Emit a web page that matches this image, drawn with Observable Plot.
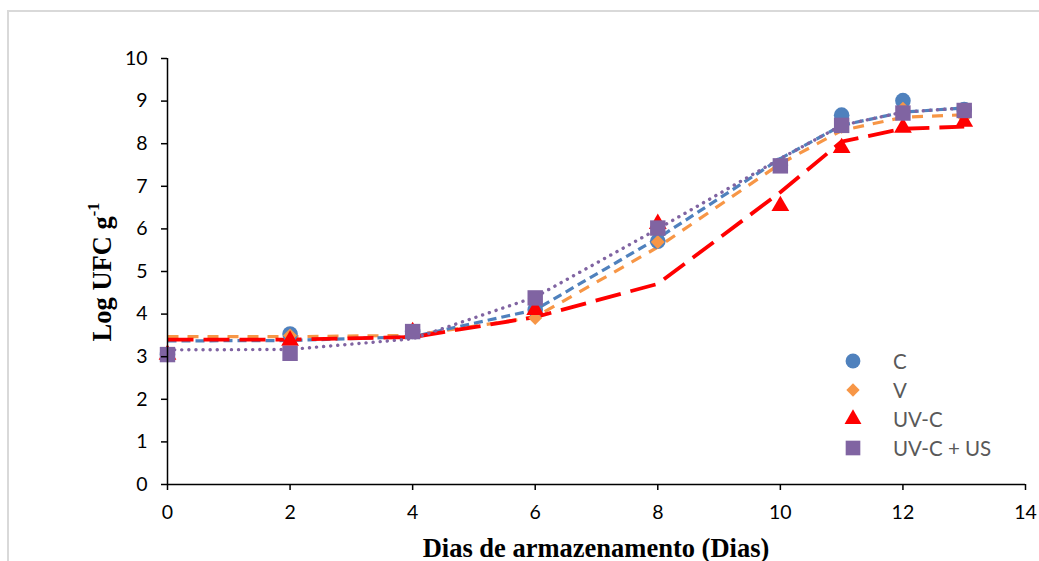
<!DOCTYPE html>
<html>
<head>
<meta charset="utf-8">
<script src="https://cdn.jsdelivr.net/npm/d3@7"></script>
<script src="https://cdn.jsdelivr.net/npm/@observablehq/plot@0.6"></script>
<style>
  html, body { margin: 0; padding: 0; background: #fff; overflow: hidden; }
  #wrap { position: relative; width: 1039px; height: 561px; overflow: hidden; }
  #frame { position: absolute; left: 7px; top: 10px; width: 1100px; height: 600px;
           border-left: 2px solid #d9d9d9; border-top: 2px solid #d9d9d9; }
  #chart { position: absolute; left: 0; top: 0; }
  .ytitle { position: absolute; left: 102px; top: 272px; transform: translate(-50%, -50%) rotate(-90deg);
            font-family: "Liberation Serif", "Times New Roman", serif; font-weight: bold; font-size: 26.5px;
            white-space: nowrap; color: #000; }
  .xtitle { position: absolute; left: 596px; top: 548px; transform: translate(-50%, -50%);
            font-family: "Liberation Serif", "Times New Roman", serif; font-weight: bold; font-size: 26.5px;
            white-space: nowrap; color: #000; }
  .ytitle sup { font-size: 0.62em; position: relative; top: -0.1em; }
  #legend { position: absolute; left: 843px; top: 346px; font-family: Lato, "Open Sans", sans-serif;
            font-size: 20.5px; color: #595959; }
  .lrow { display: flex; align-items: center; height: 29px; }
  .lrow svg { width: 20px; height: 20px; margin-right: 30px; }
</style>
</head>
<body>
<div id="wrap">
  <div id="frame"></div>
  <div id="chart"></div>
  <div class="ytitle">Log UFC g<sup>-1</sup></div>
  <div class="xtitle">Dias de armazenamento (Dias)</div>
  <div id="legend"></div>
</div>
<script>
// ---- data ----
const days = [0, 2, 4, 6, 8, 10, 11, 12, 13];
const seriesNames = ["C", "V", "UV-C", "UV-C + US"];
const seriesColors = ["#4F81BD", "#F79646", "#FF0000", "#8064A2"];
const seriesSymbols = ["circle", "diamond2", "triangle", "square"];

// observed values (markers)
const obsC    = [3.05, 3.53, 3.59, 4.10, 5.71, 7.50, 8.67, 9.01, 8.80];
const obsV    = [3.05, 3.50, 3.59, 3.91, 5.69, 7.48, 8.40, 8.82, 8.62];
const obsUVC  = [3.05, 3.38, 3.58, 4.10, 6.12, 6.54, 7.90, 8.38, 8.52];
const obsUVUS = [3.05, 3.08, 3.59, 4.38, 6.02, 7.48, 8.43, 8.72, 8.78];

// fitted trend values (lines)
const fitC    = [3.37, 3.38, 3.47, 4.10, 5.78, 7.65, 8.43, 8.74, 8.84];
const fitV    = [3.47, 3.47, 3.50, 3.93, 5.57, 7.53, 8.31, 8.62, 8.68];
const fitUVC  = [3.40, 3.40, 3.46, 3.93, 4.71, 6.86, 8.05, 8.35, 8.40];
const fitUVUS = [3.16, 3.17, 3.42, 4.40, 6.00, 7.65, 8.43, 8.74, 8.84];

const xTicks = [0, 2, 4, 6, 8, 10, 12, 14];
const yTicks = [0, 1, 2, 3, 4, 5, 6, 7, 8, 9, 10];

// ---- build tables ----
const obsAll = [obsC, obsV, obsUVC, obsUVUS];
const fitAll = [fitC, fitV, fitUVC, fitUVUS];
const tbl = (arr) => days.map((d, i) => ({day: d, v: arr[i]}));

const lineStyles = [
  {strokeWidth: 3.2, strokeDasharray: "9,5", strokeLinecap: "butt"},
  {strokeWidth: 3.2, strokeDasharray: "11,9", strokeLinecap: "butt"},
  {strokeWidth: 3.8, strokeDasharray: "26,10", strokeLinecap: "butt"},
  {strokeWidth: 3.4, strokeDasharray: "0.1,7", strokeLinecap: "round"}
];
const dotR = [7.8, 6.3, 6.6, 8.7];

const lineOrder = [1, 0, 2, 3];
const marks = [];
for (const i of lineOrder) {
  marks.push(Plot.line(tbl(fitAll[i]), {x: "day", y: "v", stroke: seriesColors[i], ...lineStyles[i]}));
}
for (let i = 0; i < 4; i++) {
  marks.push(Plot.dot(tbl(obsAll[i]), {x: "day", y: "v", fill: seriesColors[i], stroke: "none", symbol: seriesSymbols[i], r: dotR[i]}));
}
marks.push(Plot.ruleX([0], {stroke: "#000", strokeWidth: 1.5}));
marks.push(Plot.ruleY([0], {stroke: "#000", strokeWidth: 1.5}));
marks.push(Plot.axisX({ticks: xTicks, tickSize: 6, tickPadding: 15, label: null, strokeWidth: 1.5, tickFormat: d => String(d)}));
marks.push(Plot.axisY({ticks: yTicks, tickSize: 6, tickPadding: 14, label: null, strokeWidth: 1.5, tickFormat: d => String(d)}));

const chart = Plot.plot({
  width: 1039,
  height: 561,
  marginLeft: 167,
  marginRight: 14,
  marginTop: 58,
  marginBottom: 77,
  x: {domain: [0, 14]},
  y: {domain: [0, 10]},
  style: {fontFamily: "Lato, 'Open Sans', sans-serif", fontSize: "19.5px", color: "#000", background: "transparent", overflow: "visible"},
  marks
});
document.getElementById("chart").appendChild(chart);

// ---- legend ----
const legend = d3.select("#legend");
const symMap = {circle: d3.symbolCircle, diamond2: d3.symbolDiamond2, triangle: d3.symbolTriangle, square: d3.symbolSquare};
seriesNames.forEach((name, i) => {
  const row = legend.append("div").attr("class", "lrow");
  const svg = row.append("svg").attr("viewBox", "-10 -10 20 20");
  const r = dotR[i] * 0.95;
  svg.append("path").attr("d", d3.symbol(symMap[seriesSymbols[i]], Math.PI * r * r)()).attr("fill", seriesColors[i]);
  row.append("span").text(name);
});
</script>
</body>
</html>
